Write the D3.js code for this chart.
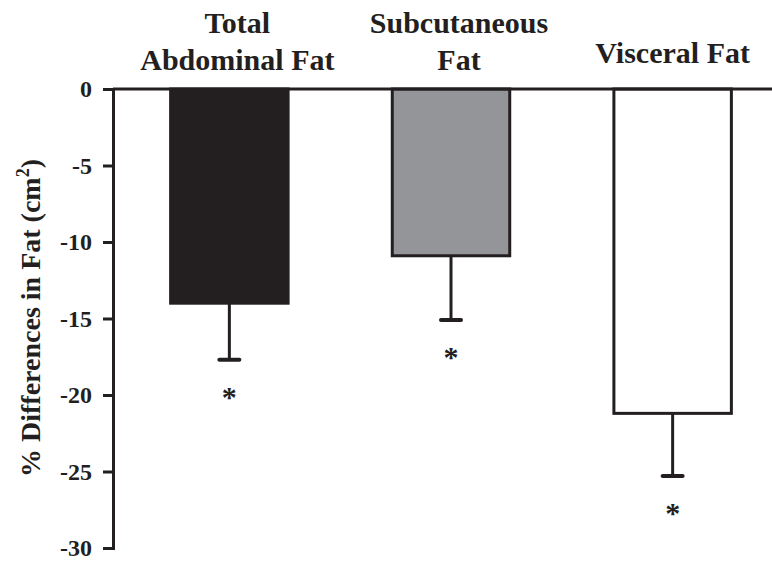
<!DOCTYPE html>
<html>
<head>
<meta charset="UTF-8">
<title>% Differences in Fat</title>
<script src="https://cdn.jsdelivr.net/npm/d3@7"></script>
<style>
	body { margin: 0; background: #fff; }
	svg text { font-family: "Liberation Serif", "Times New Roman", serif; font-weight: bold; fill: #231f20; }
</style>
</head>
<body>
<div id="chart"></div>
<script>
	// data
	var categories = ["Total Abdominal Fat", "Subcutaneous Fat", "Visceral Fat"];
	var labelLines = [["Total", "Abdominal Fat"], ["Subcutaneous", "Fat"], ["Visceral Fat"]];
	var values = [-14.0, -10.9, -21.2];
	var errors = [3.7, 4.2, 4.1];
	var significant = [true, true, true];
	var yTicks = [0, -5, -10, -15, -20, -25, -30];

	var fills = ["#231f20", "#939598", "#ffffff"];
	var ink = "#231f20";

	var width = 772, height = 561;

	var svg = d3.select("#chart").append("svg")
		.attr("width", width)
		.attr("height", height);

	var y = d3.scaleLinear()
		.domain([0, -30])
		.range([89, 548]);

	var x = d3.scaleBand()
		.domain(categories)
		.range([113, 789])
		.paddingInner(0.47)
		.paddingOuter(0.26);

	// y axis, plain hyphen for the minus sign like the original
	var yAxis = d3.axisLeft(y)
		.tickValues(yTicks)
		.tickFormat(function(d) { return String(d); })
		.tickSize(10)
		.tickPadding(11);

	var gy = svg.append("g")
		.attr("transform", "translate(113,0)")
		.call(yAxis);
	gy.select(".domain").attr("stroke", ink).attr("stroke-width", 3);
	gy.selectAll(".tick line").attr("stroke", ink).attr("stroke-width", 3);
	gy.selectAll(".tick text")
		.attr("font-size", 24)
		.attr("font-family", "Liberation Serif")
		.attr("font-weight", "bold")
		.attr("fill", ink);

	// y title
	svg.append("text")
		.attr("transform", "translate(40,318) rotate(-90)")
		.attr("text-anchor", "middle")
		.attr("font-size", 28)
		.html("% Differences in Fat (cm<tspan dy='-11' font-size='18'>2</tspan><tspan dy='11'>)</tspan>");

	// bars
	var idx = d3.range(categories.length);

	svg.selectAll("rect.bar")
		.data(idx)
		.join("rect")
		.attr("class", "bar")
		.attr("x", function(i) { return x(categories[i]); })
		.attr("y", y(0))
		.attr("width", x.bandwidth())
		.attr("height", function(i) { return y(values[i]) - y(0); })
		.attr("fill", function(i) { return fills[i]; })
		.attr("stroke", ink)
		.attr("stroke-width", 3);

	// zero line along the top
	svg.append("line")
		.attr("x1", 113).attr("x2", width)
		.attr("y1", y(0)).attr("y2", y(0))
		.attr("stroke", ink)
		.attr("stroke-width", 3);

	// error bars (downward only)
	var cx = function(i) { return x(categories[i]) + x.bandwidth() / 2; };

	svg.selectAll("line.err")
		.data(idx)
		.join("line")
		.attr("class", "err")
		.attr("x1", cx).attr("x2", cx)
		.attr("y1", function(i) { return y(values[i]); })
		.attr("y2", function(i) { return y(values[i] - errors[i]); })
		.attr("stroke", ink)
		.attr("stroke-width", 3);

	svg.selectAll("line.cap")
		.data(idx)
		.join("line")
		.attr("class", "cap")
		.attr("x1", function(i) { return cx(i) - 10; })
		.attr("x2", function(i) { return cx(i) + 10; })
		.attr("y1", function(i) { return y(values[i] - errors[i]); })
		.attr("y2", function(i) { return y(values[i] - errors[i]); })
		.attr("stroke", ink)
		.attr("stroke-width", 4)
		.attr("stroke-linecap", "round");

	// asterisks
	svg.selectAll("text.star")
		.data(idx.filter(function(i) { return significant[i]; }))
		.join("text")
		.attr("class", "star")
		.attr("x", cx)
		.attr("y", function(i) { return y(values[i] - errors[i]) + 47; })
		.attr("text-anchor", "middle")
		.attr("font-size", 30)
		.text("*");

	// category labels above the bars (first two sit a little right of centre)
	var labelDx = [8, 8, 0];
	idx.forEach(function(i) {
		var lines = labelLines[i];
		var t = svg.append("text")
			.attr("text-anchor", "middle")
			.attr("font-size", 30);
		lines.forEach(function(s, k) {
			t.append("tspan")
				.attr("x", cx(i) + labelDx[i])
				.attr("y", 70 - (lines.length - 1 - k) * 37 - (lines.length === 1 ? 7 : 0))
				.text(s);
		});
	});
</script>
</body>
</html>
